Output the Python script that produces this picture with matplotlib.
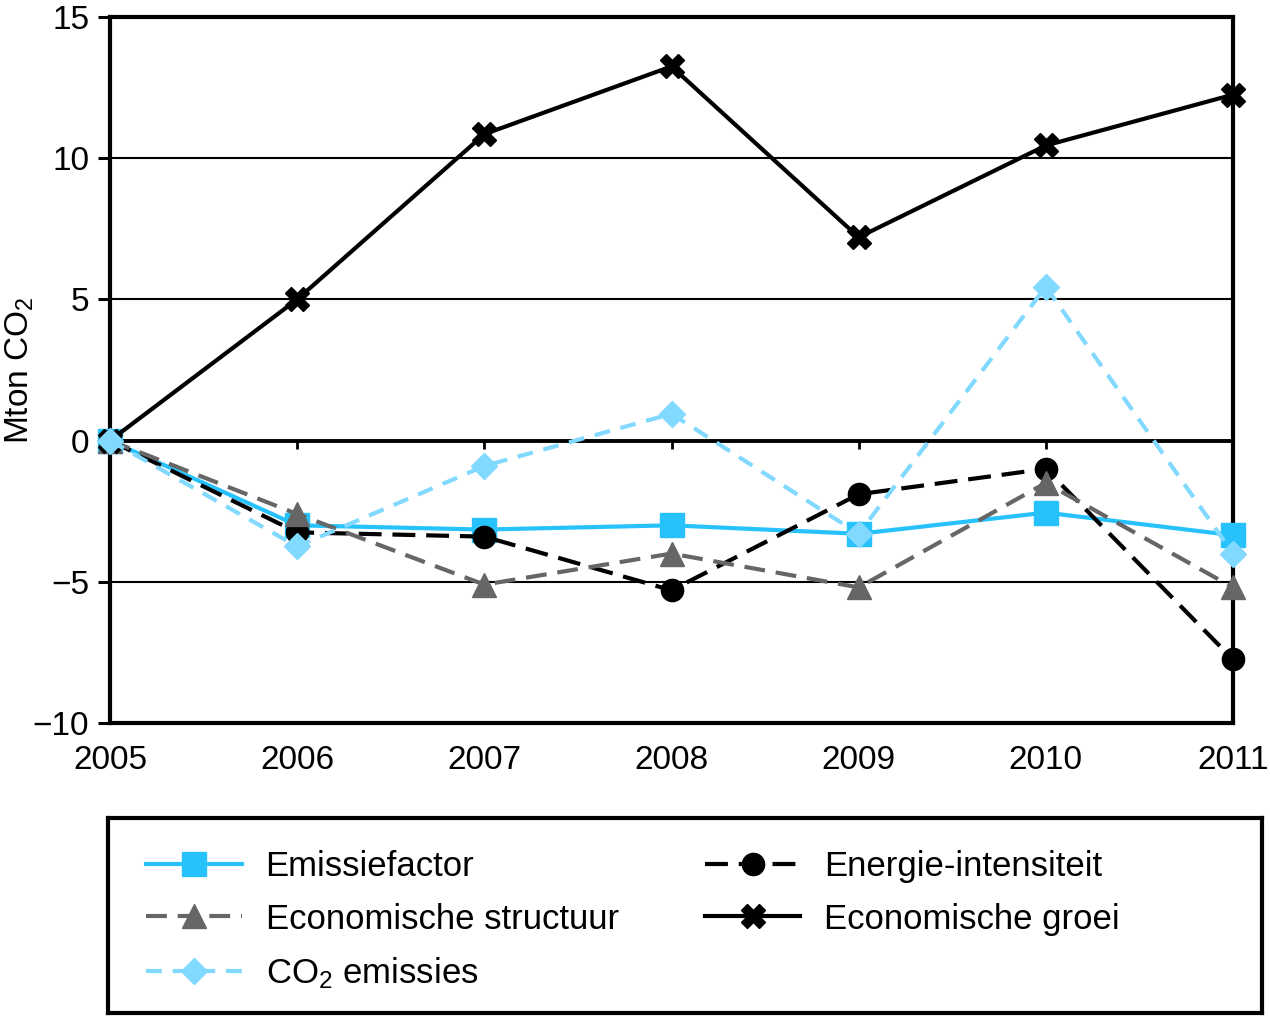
import matplotlib
matplotlib.use("Agg")
import matplotlib.pyplot as plt

plt.rcParams['font.family'] = ['Liberation Sans', 'DejaVu Sans']
plt.rcParams['mathtext.fontset'] = 'custom'
plt.rcParams['mathtext.rm'] = 'Liberation Sans'
plt.rcParams['mathtext.it'] = 'Liberation Sans'

years = [2005, 2006, 2007, 2008, 2009, 2010, 2011]
emissiefactor = [0, -3.0, -3.15, -3.0, -3.3, -2.55, -3.35]
energie_intensiteit = [0, -3.25, -3.4, -5.3, -1.9, -1.0, -7.75]
economische_structuur = [0, -2.6, -5.1, -4.0, -5.2, -1.5, -5.2]
co2_emissies = [0, -3.75, -0.9, 0.95, -3.3, 5.45, -4.0]
economische_groei = [0, 5.0, 10.85, 13.25, 7.2, 10.45, 12.25]

y_ticks = [-10, -5, 0, 5, 10, 15]

FS = 24
LFS = 25
c_emis = '#27c2fb'
c_co2 = '#82d9ff'
c_struct = '#666666'

fig = plt.figure(figsize=(12.7, 10.16), dpi=100)
ax = fig.add_axes([110/1270, 1 - 723/1016, (1233-110)/1270, (723-17)/1016])

ax.set_xlim(years[0], years[-1])
ax.set_ylim(y_ticks[0], y_ticks[-1])

# gridlines
for t in y_ticks[1:-1]:
    ax.axhline(t, color='black', lw=2.8 if t == 0 else 1.5, zorder=1)
# small tick marks at the zero line
ax.vlines(years[1:-1], -0.3, 0, color='black', lw=2.0, zorder=1)

lines = {}
lines['Emissiefactor'] = ax.plot(years, emissiefactor, color=c_emis, lw=3.0, marker='s', ms=17,
                                 mec=c_emis, clip_on=False, zorder=3)[0]
lines['Energie-intensiteit'] = ax.plot(years, energie_intensiteit, color='black', lw=3.0, ls=(0, (5.5, 2.6)),
                                       marker='o', ms=16, clip_on=False, zorder=4)[0]
lines['Economische structuur'] = ax.plot(years, economische_structuur, color=c_struct, lw=3.0, ls=(0, (5, 2.6)),
                                         marker='^', ms=17, clip_on=False, zorder=5)[0]
lines['groei'] = ax.plot(years, economische_groei, color='black', lw=3.0, marker='X', ms=17,
                         clip_on=False, zorder=6)[0]
lines['CO2'] = ax.plot(years, co2_emissies, color=c_co2, lw=3.0, ls=(0, (3.8, 2.6)),
                       marker='D', ms=13, clip_on=False, zorder=7)[0]

for s in ax.spines.values():
    s.set_linewidth(3.0)
ax.set_xticks(years)
ax.set_xticklabels([str(y) for y in years], fontsize=FS)
ax.tick_params(axis='x', length=0, pad=16)
ax.set_yticks(y_ticks)
ax.set_yticklabels([str(t).replace('-', '\u2212') for t in y_ticks], fontsize=FS)
ax.tick_params(axis='y', length=9, width=2.2, pad=6, direction='out')
ax.set_ylabel('Mton CO$_\\mathregular{2}$', fontsize=FS)
ax.yaxis.set_label_coords(-0.066, 0.5)

# legend box
lax = fig.add_axes([108/1270, 3/1016, 1154/1270, 195/1016])
lax.set_xticks([])
lax.set_yticks([])
for s in lax.spines.values():
    s.set_linewidth(3.0)

handles = [lines['Emissiefactor'], lines['Economische structuur'], lines['CO2'],
           lines['Energie-intensiteit'], lines['groei']]
labels = ['Emissiefactor', 'Economische structuur', 'CO$_\\mathregular{2}$ emissies',
          'Energie-intensiteit', 'Economische groei']
lax.legend(handles, labels, ncol=2, loc='upper left', bbox_to_anchor=(0.033, 0.835),
           frameon=False, fontsize=LFS, handlelength=2.75, handletextpad=0.69,
           columnspacing=2.48, labelspacing=0.56, borderpad=0, borderaxespad=0)

fig.savefig('out.png', dpi=100)
